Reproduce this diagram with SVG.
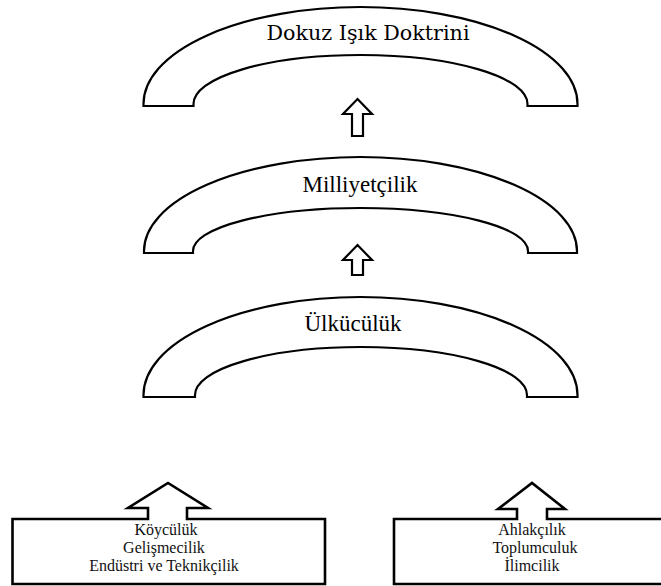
<svg xmlns="http://www.w3.org/2000/svg" width="661" height="586" viewBox="0 0 661 586">
<style>
.arch{fill:#fff;stroke:#000;stroke-width:2.2;stroke-linejoin:miter}
.up{fill:#fff;stroke:#000;stroke-width:2.2}
.box{fill:#fff;stroke:#000;stroke-width:2.6}
.t1{font-family:"DejaVu Serif","Liberation Serif",serif;font-size:20px;fill:#000;text-anchor:middle}
.t2{font-family:"Liberation Serif",serif;font-size:23px;fill:#000;text-anchor:middle}
.t3{font-family:"Liberation Serif",serif;font-size:16px;fill:#111;text-anchor:middle}
</style>
<rect width="661" height="586" fill="#fff"/>
<g id="dokuz">
<path class="arch" d="M143.5 106 L143.5 104 A217 97 0 0 1 577.5 104 L577.5 106 L527.5 106 L527.5 104 A167 49 0 0 0 193.5 104 L193.5 106 Z"/>
<text class="t1" x="368" y="40" textLength="203" lengthAdjust="spacingAndGlyphs">Dokuz Işık Doktrini</text>
</g>
<g id="milliyetcilik">
<path class="arch" d="M144 253 L144 251 A216.5 94 0 0 1 577 251 L577 253 L528 253 L528 251 A167.5 43 0 0 0 193 251 L193 253 Z"/>
<text class="t2" x="360" y="192">Milliyetçilik</text>
</g>
<g id="ulkuculuk">
<path class="arch" d="M143.5 397 L143.5 395 A217 98 0 0 1 577.5 395 L577.5 397 L527 397 L527 395 A166 48 0 0 0 195 395 L195 397 Z"/>
<text class="t2" x="353" y="331">Ülkücülük</text>
</g>
<g id="connectors">
<path class="up" d="M357.5 99 L372 114 L363 114 L363 136 L352 136 L352 114 L343 114 Z"/>
<path class="up" d="M357.5 245 L372 260 L363 260 L363 275 L352 275 L352 260 L343 260 Z"/>
</g>
<g id="box-left">
<path class="box" d="M12.5 519 L148 519 L148 508 L128 508 L168 483 L208 508 L187 508 L187 519 L325 519 L325 584 L12.5 584 Z"/>
<text class="t3" x="166" y="535">Köycülük</text>
<text class="t3" x="164" y="553">Gelişmecilik</text>
<text class="t3" x="164" y="571">Endüstri ve Teknikçilik</text>
</g>
<g id="box-right">
<path class="box" d="M394 519 L517 519 L517 509 L498 509 L532 483 L565 509 L547 509 L547 519 L664 519 L664 584 L394 584 Z"/>
<text class="t3" x="532" y="535">Ahlakçılık</text>
<text class="t3" x="535" y="553">Toplumculuk</text>
<text class="t3" x="532" y="571">İlimcilik</text>
</g>
</svg>
